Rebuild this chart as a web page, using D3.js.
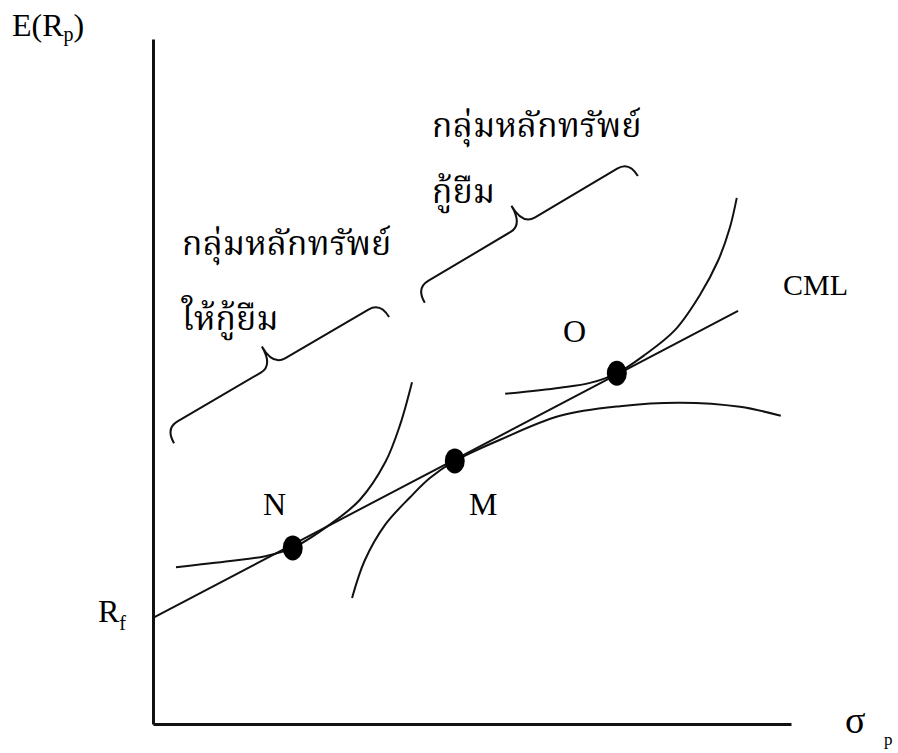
<!DOCTYPE html>
<html>
<head>
<meta charset="utf-8">
<script src="https://cdn.jsdelivr.net/npm/d3@7"></script>
<style>
  body { margin: 0; background: #fff; }
  svg { display: block; }
</style>
</head>
<body>
<div id="chart"></div>
<script>
// CML diagram: sigma_p on x, E(R_p) on y (arbitrary units 0..100)
const cmlLine = [[0, 15.5], [91.7, 60.3]];
const dotNames = ["N", "M", "O"];
const dotX = [21.9, 47.3, 72.7];
const dotY = [25.7, 38.4, 51.2];

const curveN = [[3.6, 22.9], [12.1, 23.8], [17.6, 24.5], [21.9, 25.7], [27.7, 29.1], [32.4, 32.7], [36.4, 38.2], [38.7, 43.6], [40.6, 49.9]];
const frontier = [[31.2, 18.4], [33.2, 23.9], [36.4, 29.1], [40.3, 33.1], [43.4, 35.9], [47.3, 38.4], [54.4, 41.5], [63.8, 45.0], [73.2, 46.4], [82.6, 46.9], [92.0, 46.3], [98.4, 45.0]];
const curveO = [[55.2, 48.2], [63.8, 49.1], [68.5, 49.8], [72.7, 51.2], [77.1, 53.9], [81.8, 57.5], [85.7, 62.6], [88.6, 67.7], [90.4, 72.4], [91.5, 76.8]];

const braces = [
  [[3.3, 41.0], [37.0, 59.4]],
  [[42.6, 61.5], [76.0, 80.0]]
];
const groupLines = [
  ["กลุ่มหลักทรัพย์", "ให้กู้ยืม"],
  ["กลุ่มหลักทรัพย์", "กู้ยืม"]
];
const groupAt = [[4.5, 68.5], [43.7, 85.7]];

const width = 898, height = 753;
const x = d3.scaleLinear().domain([0, 100]).range([153, 791]);
const y = d3.scaleLinear().domain([0, 100]).range([724, 39]);

const svg = d3.select("#chart").append("svg")
  .attr("width", width)
  .attr("height", height)
  .attr("font-family", "'Liberation Serif', 'Times New Roman', serif");

// axes, no ticks
svg.append("g")
  .attr("transform", `translate(0,${y(0)})`)
  .call(d3.axisBottom(x).ticks(0).tickSizeOuter(0))
  .select(".domain").attr("stroke", "#111").attr("stroke-width", 3);
svg.append("g")
  .attr("transform", `translate(${x(0)},0)`)
  .call(d3.axisLeft(y).ticks(0).tickSizeOuter(0))
  .select(".domain").attr("stroke", "#111").attr("stroke-width", 3);

const line = d3.line().x(d => x(d[0])).y(d => y(d[1]));
const smooth = d3.line().x(d => x(d[0])).y(d => y(d[1])).curve(d3.curveCatmullRom.alpha(0.5));

svg.append("path").attr("d", line(cmlLine))
  .attr("fill", "none").attr("stroke", "#111").attr("stroke-width", 2);

[curveN, frontier, curveO].forEach(c => {
  svg.append("path").attr("d", smooth(c))
    .attr("fill", "none").attr("stroke", "#111").attr("stroke-width", 2);
});

svg.selectAll(".dot").data(dotX).enter().append("ellipse")
  .attr("class", "dot")
  .attr("cx", d => x(d))
  .attr("cy", (d, i) => y(dotY[i]))
  .attr("rx", 10).attr("ry", 12.5)
  .attr("fill", "#000");

// braces
function bracePath(len, h1, h2, r) {
  const m = len / 2;
  return `M0,0 Q0,${-h1} ${r},${-h1} L${m - r},${-h1} Q${m},${-h1} ${m},${-h2}` +
    ` Q${m},${-h1} ${m + r},${-h1} L${len - r},${-h1} Q${len},${-h1} ${len},0`;
}
braces.forEach(b => {
  const x1 = x(b[0][0]), y1 = y(b[0][1]), x2 = x(b[1][0]), y2 = y(b[1][1]);
  const len = Math.hypot(x2 - x1, y2 - y1);
  const ang = Math.atan2(y2 - y1, x2 - x1) * 180 / Math.PI;
  svg.append("path")
    .attr("d", bracePath(len, 17, 39, 14))
    .attr("transform", `translate(${x1},${y1}) rotate(${ang})`)
    .attr("fill", "none").attr("stroke", "#111").attr("stroke-width", 2);
});

// thai group labels
groupLines.forEach((lines, i) => {
  const t = svg.append("g")
    .attr("font-family", "'Noto Serif Thai', 'Noto Sans Thai', 'Liberation Serif', serif")
    .attr("font-size", 34);
  t.append("text").attr("x", x(groupAt[i][0])).attr("y", y(groupAt[i][1])).text(lines[0]);
  t.append("text").attr("x", x(groupAt[i][0])).attr("y", y(groupAt[i][1]) + (i === 0 ? 75 : 66)).text(lines[1]);
});

// point labels
const labelPos = [[263, 515], [469, 515], [563, 342]];
svg.selectAll(".lab").data(dotNames).enter().append("text")
  .attr("class", "lab")
  .attr("x", (d, i) => labelPos[i][0])
  .attr("y", (d, i) => labelPos[i][1])
  .attr("font-size", 32)
  .text(d => d);

svg.append("text").attr("x", 783).attr("y", 295).attr("font-size", 30).text("CML");

// axis titles
const ey = svg.append("text").attr("x", 12).attr("y", 36).attr("font-size", 32);
ey.append("tspan").text("E(R");
ey.append("tspan").attr("font-size", 20).attr("dy", 5).text("p");
ey.append("tspan").attr("dy", -5).text(")");

const rf = svg.append("text").attr("x", 98).attr("y", 622).attr("font-size", 32);
rf.append("tspan").text("R");
rf.append("tspan").attr("font-size", 20).attr("dy", 8).text("f");

svg.append("text").attr("x", 845).attr("y", 733).attr("font-size", 38).text("σ");
svg.append("text").attr("x", 884).attr("y", 745).attr("font-size", 17).text("p");
</script>
</body>
</html>
